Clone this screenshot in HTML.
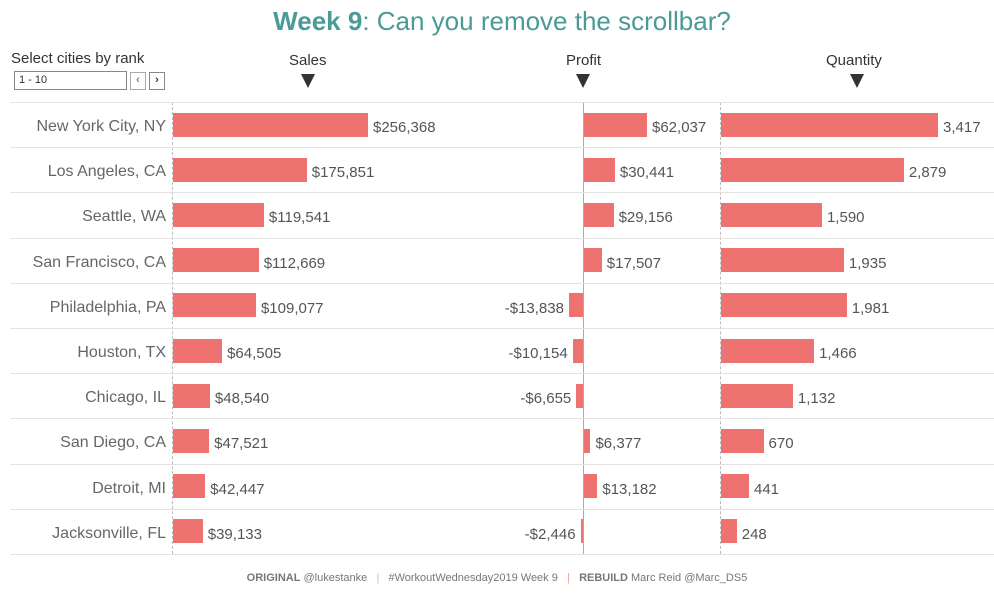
<!DOCTYPE html>
<html><head><meta charset="utf-8"><style>
body{margin:0;width:994px;height:594px;background:#fff;font-family:"Century Gothic","Liberation Sans",sans-serif;position:relative;overflow:hidden}
.a{position:absolute;white-space:nowrap}
.bar{position:absolute;background:#ee7370;height:24px}
.hl{position:absolute;left:10px;width:984px;height:1px;background:#e3e3e3}
.city{position:absolute;right:828px;font-size:16px;color:#666;line-height:20px}
.v{position:absolute;font-size:15px;color:#555;line-height:20px}
.tri{position:absolute;width:0;height:0;border-left:7px solid transparent;border-right:7px solid transparent;border-top:14px solid #333}
</style></head><body>
<div class="a" style="left:0;width:1004px;text-align:center;top:6px;font-size:26px;color:#4a9a97"><b>Week 9</b>: Can you remove the scrollbar?</div>
<div class="a" style="left:11px;top:50px;font-size:15px;color:#333">Select cities by rank</div>
<div class="a" style="left:14px;top:71px;border:1px solid #888;font-size:11px;line-height:17px;padding-left:4px;box-sizing:border-box;width:113px;height:19px;color:#333">1 - 10</div>
<div class="a" style="left:130px;top:72px;width:14px;height:16px;border:1px solid #aaa;font-size:11px;text-align:center;line-height:15px;color:#555">&lsaquo;</div>
<div class="a" style="left:149px;top:72px;width:14px;height:16px;border:1px solid #888;font-size:11px;text-align:center;line-height:15px;color:#333;font-weight:bold">&rsaquo;</div>
<div class="a" style="left:289px;top:52px;font-size:15px;color:#333">Sales</div>
<div class="tri" style="left:301px;top:74px"></div>
<div class="a" style="left:566px;top:52px;font-size:15px;color:#333">Profit</div>
<div class="tri" style="left:576px;top:74px"></div>
<div class="a" style="left:826px;top:52px;font-size:15px;color:#333">Quantity</div>
<div class="tri" style="left:850px;top:74px"></div>
<div class="a" style="left:172px;top:102px;height:452px;border-left:1px dashed #bbb"></div>
<div class="a" style="left:720px;top:102px;height:452px;border-left:1px dashed #bbb"></div>
<div class="a" style="left:583px;top:102px;width:1px;height:452px;background:#aaa"></div>
<div id="c"></div>
<div class="a" style="left:0;width:994px;text-align:center;top:572px;font-size:11px;color:#777"><b>ORIGINAL</b> @lukestanke &nbsp;&nbsp;<span style="color:#9cc">|</span>&nbsp;&nbsp; #WorkoutWednesday2019 Week 9 &nbsp;&nbsp;<span style="color:#f99">|</span>&nbsp;&nbsp; <b>REBUILD</b> Marc Reid @Marc_DS5</div>
<script>
var d=[["New York City, NY",256368,62037,3417],["Los Angeles, CA",175851,30441,2879],["Seattle, WA",119541,29156,1590],["San Francisco, CA",112669,17507,1935],["Philadelphia, PA",109077,-13838,1981],["Houston, TX",64505,-10154,1466],["Chicago, IL",48540,-6655,1132],["San Diego, CA",47521,6377,670],["Detroit, MI",42447,13182,441],["Jacksonville, FL",39133,-2446,248]];
var h='',f=function(n){return n.toLocaleString('en-US')};
for(var i=0;i<=10;i++)h+='<div class="hl" style="top:'+Math.round(102+i*45.2)+'px"></div>';
d.forEach(function(r,i){var t=102+i*45.2,by=Math.round(t+10.6),ty=Math.round(t+16);
h+='<div class="city" style="top:'+(ty-1)+'px">'+r[0]+'</div>';
var s=r[1]*195/256368;h+='<div class="bar" style="left:173px;top:'+by+'px;width:'+s+'px"></div><div class="v" style="left:'+(173+s+5)+'px;top:'+ty+'px">$'+f(r[1])+'</div>';
var p=r[2]*63/62037;
if(p>=0)h+='<div class="bar" style="left:584px;top:'+by+'px;width:'+p+'px"></div><div class="v" style="left:'+(584+p+5)+'px;top:'+ty+'px">$'+f(r[2])+'</div>';
else h+='<div class="bar" style="left:'+(583+p)+'px;top:'+by+'px;width:'+(-p)+'px"></div><div class="v" style="right:'+(994-(583+p)+5)+'px;top:'+ty+'px">-$'+f(-r[2])+'</div>';
var q=r[3]*217/3417;h+='<div class="bar" style="left:721px;top:'+by+'px;width:'+q+'px"></div><div class="v" style="left:'+(721+q+5)+'px;top:'+ty+'px">'+f(r[3])+'</div>';});
document.getElementById('c').innerHTML=h;
</script>
</body></html>
